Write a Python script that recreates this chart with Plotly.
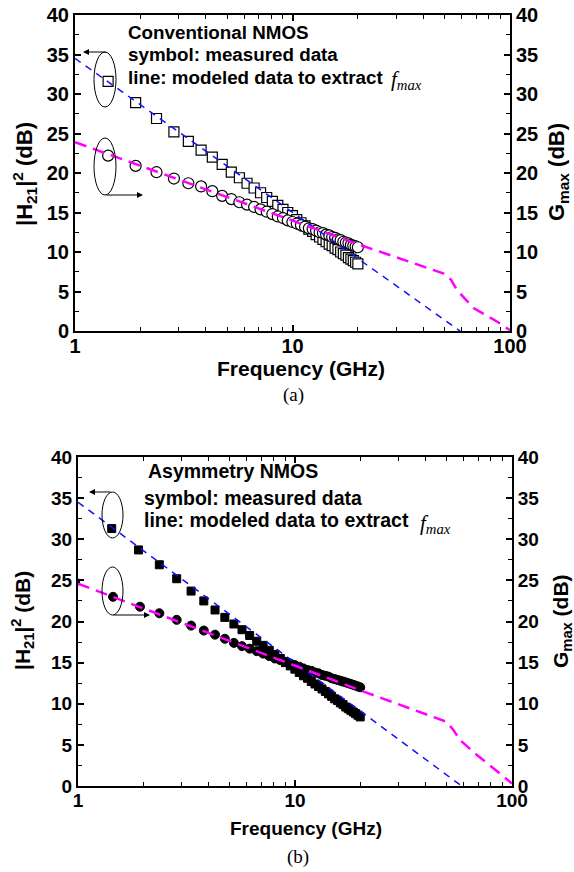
import plotly.graph_objects as go

W, H = 574, 872

# ---------------- data: panel (a) Conventional NMOS ----------------
freq_a = [1.42, 1.90, 2.37, 2.85, 3.32, 3.80, 4.28, 4.75, 5.23, 5.70,
          6.18, 6.66, 7.13, 7.61, 8.08, 8.56, 9.04, 9.51, 9.99, 10.46,
          10.94, 11.42, 11.89, 12.37, 12.84, 13.32, 13.80, 14.27, 14.75, 15.22,
          15.70, 16.18, 16.65, 17.13, 17.60, 18.08, 18.56, 19.03, 19.51, 19.98]
h21_a = [31.6, 28.9, 26.9, 25.2, 24.0, 22.9, 22.0, 21.1, 20.1, 19.4,
         18.7, 18.1, 17.5, 16.9, 16.4, 15.9, 15.4, 15.0, 14.6, 14.1,
         13.7, 13.3, 12.9, 12.6, 12.2, 11.9, 11.6, 11.3, 11.0, 10.8,
         10.5, 10.3, 10.0, 9.8, 9.6, 9.3, 9.1, 8.9, 8.7, 8.5]
gmax_a = [22.2, 20.9, 20.1, 19.3, 18.7, 18.3, 17.7, 17.1, 16.7, 16.3,
          16.0, 15.7, 15.4, 15.1, 14.8, 14.5, 14.3, 14.0, 13.8, 13.6,
          13.4, 13.2, 13.0, 12.9, 12.7, 12.5, 12.4, 12.2, 12.1, 11.9,
          11.8, 11.6, 11.5, 11.3, 11.2, 11.1, 10.9, 10.8, 10.7, 10.6]
h21_model_f_a = [1, 59]
h21_model_a = [34.5, 0]
gmax_model_f_a = [1, 20.4, 49.3, 53.5, 57, 68, 87, 100]
gmax_model_a = [23.9, 10.9, 7.3, 6.5, 5.2, 2.9, 1.2, 0.1]

# ---------------- data: panel (b) Asymmetry NMOS ----------------
freq_b = [1.43, 1.90, 2.37, 2.85, 3.32, 3.80, 4.28, 4.75, 5.23, 5.70,
          6.18, 6.66, 7.13, 7.61, 8.08, 8.56, 9.04, 9.51, 9.99, 10.46,
          10.94, 11.42, 11.89, 12.37, 12.84, 13.32, 13.80, 14.27, 14.75, 15.22,
          15.70, 16.18, 16.65, 17.13, 17.60, 18.08, 18.56, 19.03, 19.51, 19.98]
h21_b = [31.3, 28.7, 26.9, 25.2, 23.7, 22.5, 21.4, 20.5, 19.7, 19.0,
         18.3, 17.6, 17.1, 16.5, 16.0, 15.5, 15.0, 14.6, 14.2, 13.8,
         13.4, 13.1, 12.7, 12.4, 12.1, 11.8, 11.5, 11.2, 10.9, 10.6,
         10.4, 10.1, 9.9, 9.6, 9.4, 9.2, 9.0, 8.8, 8.6, 8.4]
freq_b_g = [0.97, 1.45, 1.93, 2.37, 2.85, 3.32, 3.80, 4.28, 4.75, 5.23, 5.70,
            6.18, 6.66, 7.13, 7.61, 8.08, 8.56, 9.04, 9.51, 9.99, 10.46,
            10.94, 11.42, 11.89, 12.37, 12.84, 13.32, 13.80, 14.27, 14.75, 15.22,
            15.70, 16.18, 16.65, 17.13, 17.60, 18.08, 18.56, 19.03, 19.51, 19.98]
gmax_b = [24.8, 23.0, 21.8, 21.0, 20.2, 19.5, 18.9, 18.4, 17.9, 17.4, 17.0,
          16.7, 16.4, 16.1, 15.8, 15.5, 15.3, 15.1, 14.9, 14.7, 14.5,
          14.3, 14.1, 14.0, 13.8, 13.7, 13.5, 13.4, 13.3, 13.1, 13.0,
          12.9, 12.8, 12.7, 12.6, 12.5, 12.4, 12.3, 12.2, 12.1, 12.0]
h21_model_f_b = [1, 58.6]
h21_model_b = [34.5, 0]
gmax_model_f_b = [1, 20.6, 50, 53.7, 57.5, 68.7, 81.8, 100]
gmax_model_b = [24.6, 11.5, 7.8, 6.8, 5.6, 3.8, 2.2, 0.3]

# ---------------- ticks ----------------
x_tickvals = [1, 10, 100]
x_ticktext = ["1", "10", "100"]
x_minor = [2, 3, 4, 5, 6, 7, 8, 9, 20, 30, 40, 50, 60, 70, 80, 90]
y_tickvals = [0, 5, 10, 15, 20, 25, 30, 35, 40]


def px(x):
    return x / W


def py(y):
    return 1 - y / H


BLUE = "#1010ff"
MAG = "#ff00ff"
SANS = "Liberation Sans"
SERIF = "Liberation Serif"

fig = go.Figure()

# panel (a): markers first, lines on top
fig.add_trace(go.Scatter(x=freq_a, y=h21_a, mode="markers", xaxis="x", yaxis="y",
                         marker=dict(symbol="square", size=10, color="white",
                                     line=dict(color="black", width=1.2)),
                         showlegend=False, hoverinfo="skip"))
fig.add_trace(go.Scatter(x=freq_a, y=gmax_a, mode="markers", xaxis="x", yaxis="y",
                         marker=dict(symbol="circle", size=11, color="white",
                                     line=dict(color="black", width=1.2)),
                         showlegend=False, hoverinfo="skip"))
fig.add_trace(go.Scatter(x=h21_model_f_a, y=h21_model_a, mode="lines", xaxis="x", yaxis="y",
                         line=dict(color=BLUE, width=1.5, dash="7px,6px"),
                         showlegend=False, hoverinfo="skip"))
fig.add_trace(go.Scatter(x=gmax_model_f_a, y=gmax_model_a, mode="lines", xaxis="x", yaxis="y",
                         line=dict(color=MAG, width=2.5, dash="12px,7px"),
                         showlegend=False, hoverinfo="skip"))
fig.add_trace(go.Scatter(x=[10], y=[20], mode="markers", xaxis="x", yaxis="y2",
                         marker=dict(opacity=0), showlegend=False, hoverinfo="skip"))

# panel (b)
fig.add_trace(go.Scatter(x=freq_b, y=h21_b, mode="markers", xaxis="x2", yaxis="y3",
                         marker=dict(symbol="square", size=8, color="black",
                                     line=dict(color="black", width=1)),
                         showlegend=False, hoverinfo="skip"))
fig.add_trace(go.Scatter(x=freq_b_g, y=gmax_b, mode="markers", xaxis="x2", yaxis="y3",
                         marker=dict(symbol="circle", size=9, color="black",
                                     line=dict(color="black", width=1)),
                         showlegend=False, hoverinfo="skip"))
fig.add_trace(go.Scatter(x=h21_model_f_b, y=h21_model_b, mode="lines", xaxis="x2", yaxis="y3",
                         line=dict(color=BLUE, width=1.5, dash="7px,6px"),
                         showlegend=False, hoverinfo="skip"))
fig.add_trace(go.Scatter(x=gmax_model_f_b, y=gmax_model_b, mode="lines", xaxis="x2", yaxis="y3",
                         line=dict(color=MAG, width=2.5, dash="12px,7px"),
                         showlegend=False, hoverinfo="skip"))
fig.add_trace(go.Scatter(x=[10], y=[20], mode="markers", xaxis="x2", yaxis="y4",
                         marker=dict(opacity=0), showlegend=False, hoverinfo="skip"))


def xaxis(domain, anchor, size):
    return dict(type="log", range=[0, 2], domain=domain, anchor=anchor,
                automargin=False,
                tickmode="array", tickvals=x_tickvals, ticktext=x_ticktext,
                ticks="inside", ticklen=6, tickwidth=1.5, tickcolor="black",
                ticklabelstandoff=-4,
                showline=True, linewidth=2, linecolor="black", mirror="ticks",
                showgrid=False, zeroline=False,
                tickfont=dict(family=SANS, size=size, color="black", weight="bold"),
                minor=dict(ticks="inside", ticklen=4, tickwidth=1.2, tickcolor="black",
                           tickmode="array", tickvals=x_minor, showgrid=False))


def yaxis(domain, anchor, side, size, overlaying=None):
    d = dict(range=[0, 40], domain=domain, anchor=anchor, side=side,
             automargin=False,
             tickmode="array", tickvals=y_tickvals,
             ticks="inside", ticklen=6, tickwidth=1.5, tickcolor="black",
             showline=True, linewidth=2, linecolor="black", mirror=False,
             showgrid=False, zeroline=False,
             tickfont=dict(family=SANS, size=size, color="black", weight="bold"),
             minor=dict(ticks="inside", ticklen=4, tickwidth=1.2, tickcolor="black",
                        dtick=2.5, showgrid=False))
    if overlaying:
        d["overlaying"] = overlaying
    return d


dom_a_x = [px(75), px(510)]
dom_a_y = [py(331), py(15)]
dom_b_x = [px(78), px(512)]
dom_b_y = [py(786), py(457)]

fig.update_layout(
    width=W, height=H,
    margin=dict(l=0, r=0, t=0, b=0, pad=0, autoexpand=False),
    paper_bgcolor="white", plot_bgcolor="white",
    showlegend=False,
    xaxis=xaxis(dom_a_x, "y", 20),
    yaxis=yaxis(dom_a_y, "x", "left", 20),
    yaxis2=yaxis(dom_a_y, "x", "right", 20, overlaying="y"),
    xaxis2=xaxis(dom_b_x, "y3", 19),
    yaxis3=yaxis(dom_b_y, "x2", "left", 19),
    yaxis4=yaxis(dom_b_y, "x2", "right", 19, overlaying="y3"),
)

ann = []


def text(x, y, t, size, family=SANS, bold=True, xanchor="center", angle=0, italic=False):
    ann.append(dict(x=px(x), y=py(y), xref="paper", yref="paper", text=t,
                    showarrow=False, xanchor=xanchor, yanchor="middle", textangle=angle,
                    font=dict(family=family, size=size, color="black",
                              weight="bold" if bold else "normal",
                              style="italic" if italic else "normal")))


# panel (a) texts
text(126, 33, "Conventional NMOS", 18.8, xanchor="left")
text(126, 55, "symbol: measured data", 18.8, xanchor="left")
text(126, 77, "line: modeled data to extract", 18.8, xanchor="left")
text(389, 80, "f<sub>max</sub>", 21, family=SERIF, bold=False, xanchor="left", italic=True)
text(25, 174, "|H<sub>21</sub>|<sup>2</sup> (dB)", 22, angle=-90)
text(558, 172, "G<sub>max</sub> (dB)", 22, angle=-90)
text(301, 368, "Frequency (GHz)", 21)
text(293, 395, "(a)", 19, family=SERIF, bold=False)

# panel (b) texts
text(146, 471, "Asymmetry NMOS", 19.5, xanchor="left")
text(142, 498, "symbol: measured data", 19.5, xanchor="left")
text(142, 520, "line: modeled data to extract", 19.5, xanchor="left")
text(418, 524, "f<sub>max</sub>", 21, family=SERIF, bold=False, xanchor="left", italic=True)
text(22, 621, "|H<sub>21</sub>|<sup>2</sup> (dB)", 21, angle=-90)
text(562, 621, "G<sub>max</sub> (dB)", 21, angle=-90)
text(306, 828, "Frequency (GHz)", 19)
text(298, 857, "(b)", 19, family=SERIF, bold=False)


def arrow(x0, y0, x1, y1):
    # tail (x0,y0) -> head (x1,y1), pixel coords
    ann.append(dict(x=px(x1), y=py(y1), xref="paper", yref="paper",
                    ax=x0 - x1, ay=y0 - y1, axref="pixel", ayref="pixel",
                    text="", showarrow=True, arrowhead=2, arrowsize=1.2,
                    arrowwidth=1, arrowcolor="black", standoff=0, startstandoff=0))


arrow(107, 52, 83, 52)
arrow(105, 195, 143, 195)
arrow(112, 492, 89, 492)
arrow(112, 615, 150, 615)

fig.update_layout(annotations=ann)

shapes = []
for (x0, y0, x1, y1) in [(94, 52, 116, 107), (94, 138, 116, 195),
                         (102, 492, 123, 538), (102, 567, 123, 615)]:
    shapes.append(dict(type="circle", xref="paper", yref="paper",
                       x0=px(x0), x1=px(x1), y0=py(y1), y1=py(y0),
                       line=dict(color="black", width=1), fillcolor="rgba(0,0,0,0)"))
fig.update_layout(shapes=shapes)

fig.write_html("out.html")
